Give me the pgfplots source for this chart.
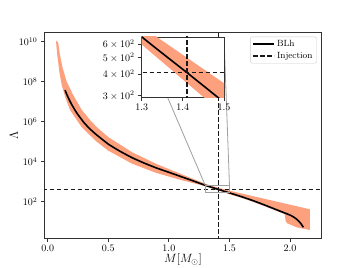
\documentclass[border=0pt]{standalone}
\usepackage{pgfplots}
\pgfplotsset{compat=1.18}
\definecolor{band}{RGB}{252,160,126}
\definecolor{spine}{RGB}{50,50,50}
\definecolor{conn}{RGB}{160,160,160}
\tikzset{
  injstyle/.style={black!90, line width=1.4pt, dash pattern=on 4.8pt off 2.2pt},
  blhstyle/.style={black, line width=1.6pt},
}

\pgfplotstableread{
M L
0.074 1.10e10
0.087 8.91e9
0.101 2.19e9
0.124 4.68e8
0.157 1.0e8
0.211 2.14e7
0.28 3.98e6
0.35 1.20e6
0.4 5.75e5
0.5 1.70e5
0.7 2.88e4
0.9 7.59e3
1.1 2.43e3
1.25 1.05e3
1.336 661
1.5 355
1.7 186
1.9 97.7
2.164 41.7
2.164 3.85
2.1 4.57
2.054 5.25
1.977 8.32
1.965 10.0
1.955 24.0
1.9 32.4
1.8 56.2
1.7 95.5
1.6 155
1.45 295
1.3 596
1.2 851
1.1 1216
0.9 2692
0.7 7762
0.5 3.55e4
0.4 1.05e5
0.28 5.37e5
0.184 3.85e6
0.143 1.78e7
0.116 6.76e7
0.096 3.16e8
0.079 2.19e9
0.069 1.0e10
}\bandtable

\pgfplotstableread{
M L
0.143 3.80e7
0.16 2.14e7
0.18 1.175e7
0.2 6.92e6
0.225 3.80e6
0.25 2.24e6
0.3 8.91e5
0.35 4.27e5
0.4 2.29e5
0.5 7.59e4
0.6 3.24e4
0.7 1.55e4
0.8 8.32e3
0.9 4.79e3
1.0 2.95e3
1.1 1.80e3
1.2 1.10e3
1.3 661
1.41 409
1.5 275
1.6 178
1.7 110
1.8 64.6
1.9 37.2
2.0 21.4
2.03 17.0
2.055 13.2
2.075 10.2
2.09 7.94
2.1 6.46
2.11 5.25
}\curvetable

\begin{document}
\begin{tikzpicture}
\begin{axis}[
  scale only axis,
  tick align=outside,
  xtick pos=bottom, ytick pos=left,
  major tick length=3.5pt,
  every tick/.style={spine, line width=0.8pt},
  axis line style={spine, line width=0.8pt},
  yminorticks=false, xminorticks=false,
  ymode=log,
  tick label style={font=\fontsize{10.4}{12}\selectfont},
  xticklabel style={/pgf/number format/.cd, fixed, fixed zerofill, precision=1},
  at={(0pt,0pt)}, anchor=south west,
  width=277.4pt, height=206pt,
  xmin=-0.028, xmax=2.261,
  ymin=1.48, ymax=2.95e10,
  xtick={0,0.5,1,1.5,2},
  ytick={1e2,1e4,1e6,1e8,1e10},
  xlabel={$M[M_\odot]$}, ylabel={$\Lambda$},
  label style={font=\fontsize{11.5}{13}\selectfont},
  ylabel shift=-6pt, xlabel shift=-5pt,
  legend style={at={(rel axis cs:0.982,0.979)}, anchor=north east,
    draw=black!20, rounded corners=2pt, fill=white, font=\small,
    inner xsep=2pt, inner ysep=1.5pt, row sep=0pt},
  legend cell align=left,
  legend image code/.code={\draw[#1] (0pt,0pt) -- (21pt,0pt);},
]
\addplot[fill=band, draw=none, forget plot] table[x=M,y=L] {\bandtable} -- cycle;
\addplot[blhstyle, smooth, tension=0.3] table[x=M,y=L] {\curvetable};
\addlegendentry{BLh}
\addplot[injstyle] coordinates {(-0.1,410) (2.4,410)};
\addlegendentry{Injection}
\addplot[injstyle, forget plot] coordinates {(1.41,0.5) (1.41,1e11)};
\draw[conn, line width=0.8pt] (axis cs:1.3,294) rectangle (axis cs:1.5,659);
\coordinate (rl) at (axis cs:1.3,659);
\coordinate (rr) at (axis cs:1.5,659);
\end{axis}
\draw[conn, line width=0.8pt] (rl) -- (97.4pt,201.3pt);
\draw[conn, line width=0.8pt] (rr) -- (179.7pt,201.3pt);
\begin{axis}[
  scale only axis,
  tick align=outside,
  xtick pos=bottom, ytick pos=left,
  major tick length=3.5pt,
  every tick/.style={spine, line width=0.8pt},
  axis line style={spine, line width=0.8pt},
  yminorticks=false, xminorticks=false,
  ymode=log,
  tick label style={font=\fontsize{10}{12}\selectfont},
  xticklabel style={/pgf/number format/.cd, fixed, fixed zerofill, precision=1},
  at={(97.4pt,141pt)}, anchor=south west,
  width=82.3pt, height=60.3pt,
  axis background/.style={fill=white},
  xmin=1.3, xmax=1.5, ymin=294, ymax=659,
  xtick={1.3,1.4,1.5},
  ytick={300,400,500,600},
  yticklabels={$3\times10^{2}$,$4\times10^{2}$,$5\times10^{2}$,$6\times10^{2}$},
]
\addplot[fill=band, draw=none] table[x=M,y=L] {\bandtable} -- cycle;
\addplot[blhstyle, smooth, tension=0.3] table[x=M,y=L] {\curvetable};
\addplot[injstyle] coordinates {(1.2,410) (1.6,410)};
\addplot[injstyle] coordinates {(1.41,100) (1.41,1000)};
\end{axis}
\pgfresetboundingbox
\path (-44.3pt,-29.7pt) rectangle (312.7pt,238.3pt);
\end{tikzpicture}
\end{document}
